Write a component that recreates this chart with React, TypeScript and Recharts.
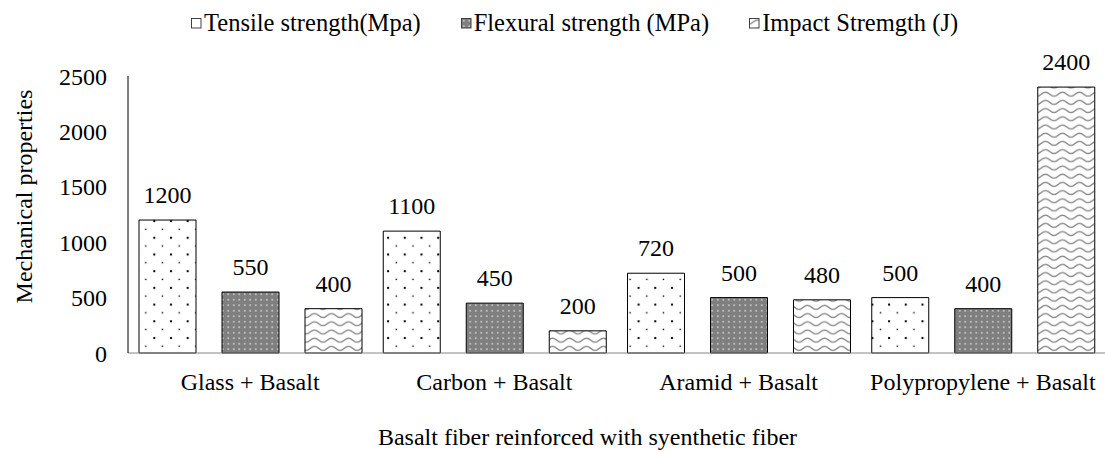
import { BarChart, Bar, XAxis, YAxis, Legend, LabelList } from "recharts";

const categories = ["Glass + Basalt", "Carbon + Basalt", "Aramid + Basalt", "Polypropylene + Basalt"];
const tensile = [1200, 1100, 720, 500];
const flexural = [550, 450, 500, 400];
const impact = [400, 200, 480, 2400];
const yTicks = [0, 500, 1000, 1500, 2000, 2500];

const seriesNames = ["Tensile strength(Mpa)", "Flexural strength (MPa)", "Impact Stremgth (J)"];

const data = categories.map((name, i) => ({
  name,
  tensile: tensile[i],
  flexural: flexural[i],
  impact: impact[i],
}));

const font = "Liberation Serif, Times New Roman, serif";
const labelStyle = { fontFamily: font, fontSize: 24, fill: "#000" };

const legendFills = ["#fff", "url(#grayDots)", "url(#wave)"];

function LegendContent() {
  return (
    <div style={{ display: "flex", height: 30, alignItems: "center", paddingLeft: 191, fontFamily: font, fontSize: 24.5, color: "#000", whiteSpace: "nowrap" }}>
      {seriesNames.map((s, i) => (
        <div key={s} style={{ display: "flex", alignItems: "center", marginRight: 40 }}>
          <svg width={11} height={11} style={{ marginRight: 2 }}>
            <rect x={0.5} y={0.5} width={9.5} height={9.5} fill={legendFills[i]} stroke="#404040" />
          </svg>
          <span>{s}</span>
        </div>
      ))}
    </div>
  );
}

function YTitle(props: any) {
  const vb = props.viewBox;
  const x = vb.x + 24;
  const y = vb.y + vb.height / 2 - 18;
  return (
    <text x={x} y={y} transform={`rotate(-90, ${x}, ${y})`} textAnchor="middle" dominantBaseline="central"
      fontFamily={font} fontSize={24} fill="#000">
      Mechanical properties
    </text>
  );
}

function XTitle(props: any) {
  const vb = props.viewBox;
  const x = vb.x + vb.width / 2 - 29;
  return (
    <text x={x} y={437} textAnchor="middle" dominantBaseline="central" fontFamily={font} fontSize={24} fill="#000">
      Basalt fiber reinforced with syenthetic fiber
    </text>
  );
}

export default function App() {
  return (
    <div style={{ position: "absolute", left: 0, top: 0, width: 1105, height: 452, background: "#fff" }}>
      <BarChart width={1105} height={452} data={data} margin={{ top: 46, right: 0, bottom: 0, left: 0 }}
        barSize={57} barGap={26}>
        <defs>
          <pattern id="dots" width="16.7" height="16.7" patternUnits="userSpaceOnUse">
            <rect width="16.7" height="16.7" fill="#fff" />
            <rect x="3" y="3" width="2" height="2" fill="#000" />
            <rect x="11.5" y="11.5" width="1.4" height="1.4" fill="#000" />
          </pattern>
          <pattern id="grayDots" width="5.5" height="5.5" patternUnits="userSpaceOnUse">
            <rect width="5.5" height="5.5" fill="#7f7f7f" />
            <rect x="2" y="2" width="1.5" height="1.5" fill="#dcdcdc" />
          </pattern>
          <pattern id="wave" width="17" height="8.2" patternUnits="userSpaceOnUse">
            <rect width="17" height="8.2" fill="#fff" />
            <path d="M0,6 C3,6 5,2 8.5,2 C12,2 14,6 17,6" fill="none" stroke="#8c8c8c" strokeWidth="1.4" />
          </pattern>
        </defs>
        <Legend verticalAlign="top" align="left" content={<LegendContent />} wrapperStyle={{ top: 8, left: 0, width: 1105 }} />
        <XAxis dataKey="name" axisLine={{ stroke: "#868686" }} tickLine={false} height={99} tickMargin={14}
          tick={labelStyle} label={<XTitle />} />
        <YAxis domain={[0, 2500]} ticks={yTicks} width={128} axisLine={{ stroke: "#000" }} tickLine={false}
          tickMargin={15} tick={labelStyle} label={<YTitle />} />
        <Bar dataKey="tensile" name={seriesNames[0]} fill="url(#dots)" stroke="#000" strokeWidth={1} isAnimationActive={false}>
          <LabelList dataKey="tensile" position="top" offset={17} style={labelStyle} />
        </Bar>
        <Bar dataKey="flexural" name={seriesNames[1]} fill="url(#grayDots)" stroke="#000" strokeWidth={1} isAnimationActive={false}>
          <LabelList dataKey="flexural" position="top" offset={17} style={labelStyle} />
        </Bar>
        <Bar dataKey="impact" name={seriesNames[2]} fill="url(#wave)" stroke="#000" strokeWidth={1} isAnimationActive={false}>
          <LabelList dataKey="impact" position="top" offset={17} style={labelStyle} />
        </Bar>
      </BarChart>
    </div>
  );
}
